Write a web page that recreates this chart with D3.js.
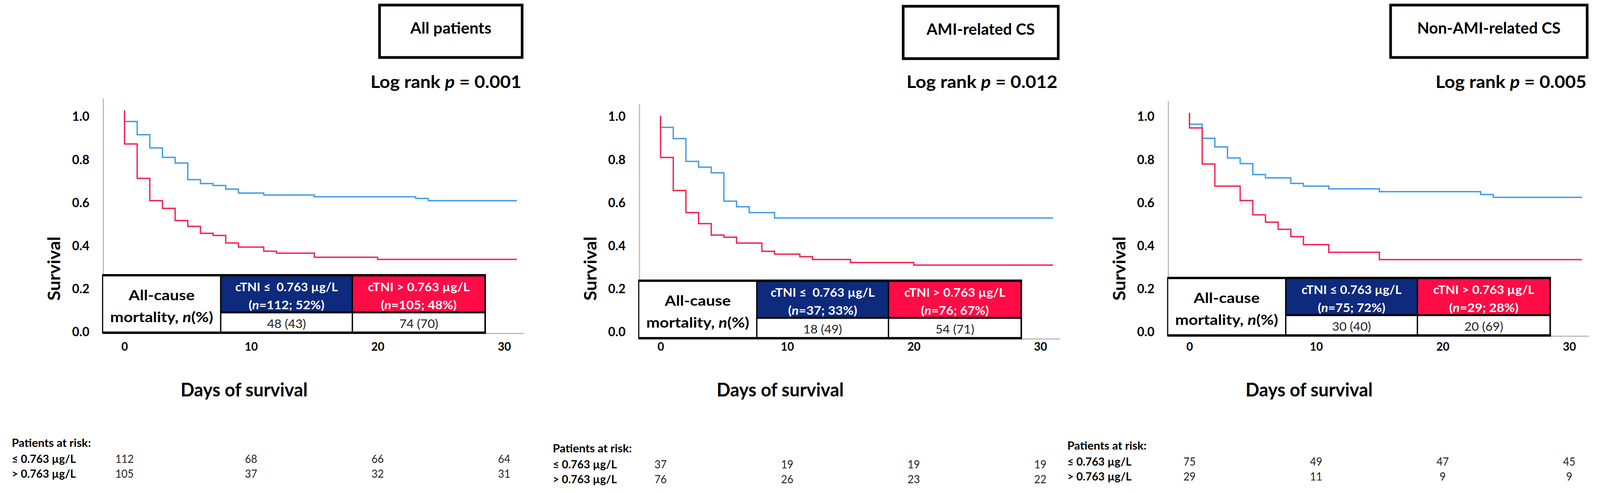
<!DOCTYPE html>
<html><head><meta charset="utf-8">
<script src="https://cdn.jsdelivr.net/npm/d3@7"></script>
<style>
html,body{margin:0;padding:0;background:#fff;overflow:hidden;width:100%;height:100%}
svg{display:block;width:100vw;height:100vh}
text{font-family:Lato,"Open Sans","DejaVu Sans",sans-serif}
</style>
</head><body>
<svg id="c" viewBox="0 0 4241 1261" preserveAspectRatio="none"></svg>
<script>
// ---------------- DATA ----------------
const panelTitles = ["All patients", "AMI-related CS", "Non-AMI-related CS"];
const pValues = ["0.001", "0.012", "0.005"];
const lowHeaders = ["cTNI \u2264 \u00a00.763 \u00b5g/L", "cTNI \u2264 \u00a00.763 \u00b5g/L", "cTNI \u2264 0.763 \u00b5g/L"];
const highHeaders = ["cTNI > 0.763 \u00b5g/L", "cTNI > 0.763 \u00b5g/L", "cTNI > 0.763 \u00b5g/L"];
const lowN = [112, 37, 75];
const lowPct = [52, 33, 72];
const highN = [105, 76, 29];
const highPct = [48, 67, 28];
const lowDeaths = ["48 (43)", "18 (49)", "30 (40)"];
const highDeaths = ["74 (70)", "54 (71)", "20 (69)"];
const riskTimes = [0, 10, 20, 30];
const riskLow = [[112, 68, 66, 64], [37, 19, 19, 19], [75, 49, 47, 45]];
const riskHigh = [[105, 37, 32, 31], [76, 26, 23, 22], [29, 11, 9, 9]];
const riskRowLabels = ["\u2264 0.763 \u00b5g/L", "> 0.763 \u00b5g/L"];
const xTicks = [0, 10, 20, 30];
const yTicks = [0, 0.2, 0.4, 0.6, 0.8, 1.0];
const followUpEnd = 31;

// Kaplan-Meier steps: [day, survival after the step]
const allLow = [[0,0.948],[1,0.887],[2,0.826],[3,0.782],[4,0.756],[5,0.679],[6,0.661],[7,0.652],[8,0.635],[9,0.617],[11,0.608],[15,0.600],[23,0.592],[24,0.582]];
const allHigh = [[0,0.844],[1,0.685],[2,0.582],[3,0.546],[4,0.490],[5,0.463],[6,0.431],[7,0.421],[8,0.386],[9,0.367],[11,0.348],[12,0.339],[15,0.320],[20,0.310]];
const amiLow = [[0,0.946],[1,0.894],[2,0.789],[3,0.762],[4,0.736],[5,0.605],[6,0.579],[7,0.552],[9,0.527]];
const amiHigh = [[0,0.807],[1,0.654],[2,0.552],[3,0.501],[4,0.448],[5,0.438],[6,0.411],[8,0.373],[9,0.360],[11,0.348],[12,0.335],[15,0.321],[20,0.309]];
const nonLow = [[0,0.948],[1,0.883],[2,0.843],[3,0.792],[4,0.766],[5,0.715],[6,0.700],[8,0.674],[9,0.662],[11,0.649],[15,0.636],[23,0.623],[24,0.610]];
const nonHigh = [[0,0.931],[1,0.764],[2,0.662],[4,0.595],[5,0.529],[6,0.495],[7,0.462],[8,0.428],[9,0.391],[11,0.356],[15,0.322]];
const lowCurves = [allLow, amiLow, nonLow];
const highCurves = [allHigh, amiHigh, nonHigh];

// ---------------- LAYOUT ----------------
const layout = [
  {ax: 274, yt: 282, titleW: 378, titleY: 13, titleTextW: 215, riskLeft: 31,
   lowHW: 272, highHW: 270, lowNW: 201, highNW: 201},
  {ax: 1695, yt: 296, titleW: 411, titleY: 16, titleTextW: 287, riskLeft: 1465,
   lowHW: 276, highHW: 268, lowNW: 183, highNW: 180},
  {ax: 3097, yt: 289, titleW: 521, titleY: 13, titleTextW: 380, riskLeft: 2829,
   lowHW: 265, highHW: 268, lowNW: 179, highNW: 184}
];
const C = {blueLine: "#3F9CEA", redLine: "#F2224F", navy: "#0D2A7C", redFill: "#FF0B46", axis: "#B8B8B8"};
const FONT = "Lato, 'Open Sans', sans-serif";

const svg = d3.select("#c");
const labelY = d3.scaleLinear().domain([0, 1]).range([848, 297]);

function kmPoints(steps) {
  return [[0, 1]].concat(steps, [[followUpEnd, steps[steps.length - 1][1]]]);
}
function fit(t, w) {
  const len = t.node().getComputedTextLength();
  if (len > 0 && w) t.attr("textLength", w).attr("lengthAdjust", "spacingAndGlyphs");
  return t;
}

panelTitles.forEach((title, i) => {
  const L = layout[i];
  const g = svg.append("g");
  const x = d3.scaleLinear().domain([0, 30]).range([L.ax + 56, L.ax + 56 + 30 * 33.55]);
  const y = d3.scaleLinear().domain([0, 1]).range([L.yt + 553, L.yt]);
  const base = L.yt + 571;

  // axis lines
  g.append("line").attr("x1", L.ax).attr("x2", L.ax).attr("y1", L.yt - 30).attr("y2", base)
    .attr("stroke", C.axis).attr("stroke-width", 3);
  g.append("line").attr("x1", L.ax).attr("x2", L.ax + 1115).attr("y1", base).attr("y2", base)
    .attr("stroke", C.axis).attr("stroke-width", 3);

  // y tick labels
  const ya = g.append("g").attr("transform", `translate(${L.ax - 60},0)`)
    .call(d3.axisLeft(labelY).tickValues(yTicks).tickFormat(d3.format(".1f")).tickSize(0).tickPadding(0));
  ya.select(".domain").remove();
  ya.attr("font-family", FONT).attr("font-size", 33).attr("font-weight", "bold").attr("text-anchor", "middle");
  ya.selectAll("text").attr("x", 0).attr("dy", "0.36em").attr("fill", "#000");

  // x tick labels
  const xa = g.append("g").attr("transform", `translate(0,886)`)
    .call(d3.axisBottom(x).tickValues(xTicks).tickSize(0).tickPadding(0));
  xa.select(".domain").remove();
  xa.attr("font-family", FONT).attr("font-size", 30).attr("font-weight", "bold");
  xa.selectAll("text").attr("y", 0).attr("dy", "0.36em").attr("fill", "#000");

  // curves
  const line = d3.line().x(d => x(d[0])).y(d => y(d[1])).curve(d3.curveStepAfter);
  g.append("path").attr("d", line(kmPoints(lowCurves[i]))).attr("fill", "none")
    .attr("stroke", C.blueLine).attr("stroke-width", 3.5);
  g.append("path").attr("d", line(kmPoints(highCurves[i]))).attr("fill", "none")
    .attr("stroke", C.redLine).attr("stroke-width", 3.5);

  // mortality table
  const tl = L.ax - 2, tr = L.ax + 1012, c1 = L.ax + 311, c2 = L.ax + 660;
  const tt = L.yt + 422, tm = L.yt + 517, tb = L.yt + 569;
  g.append("rect").attr("x", tl).attr("y", tt).attr("width", tr - tl).attr("height", tb - tt).attr("fill", "#fff");
  g.append("rect").attr("x", c1).attr("y", tt).attr("width", c2 - c1).attr("height", tm - tt).attr("fill", C.navy);
  g.append("rect").attr("x", c2).attr("y", tt).attr("width", tr - c2).attr("height", tm - tt).attr("fill", C.redFill);
  const bl = (x1, y1, x2, y2, w) => g.append("line").attr("x1", x1).attr("y1", y1).attr("x2", x2).attr("y2", y2)
    .attr("stroke", "#000").attr("stroke-width", w);
  bl(tl - 1, tt, tr + 2, tt, 6);
  bl(tl - 1, tb, tr + 2, tb, 6);
  bl(c1, tm, tr, tm, 5);
  bl(tl, tt, tl, tb, 3);
  bl(tr, tt, tr, tb, 4);
  bl(c1, tt, c1, tb, 3.5);
  bl(c2, tt, c2, tb, 3.5);

  const txt = (xx, yy, s, size, weight, fill, anchor) => g.append("text").attr("x", xx).attr("y", yy)
    .attr("font-size", size).attr("font-weight", weight).attr("fill", fill)
    .attr("text-anchor", anchor || "middle").attr("dominant-baseline", "central").text(s);

  const m1 = (c1 + c2) / 2, m2 = (c2 + tr) / 2;
  fit(txt(m1, tt + 29, lowHeaders[i], 30, "bold", "#fff"), L.lowHW);
  fit(txt(m2, tt + 29, highHeaders[i], 30, "bold", "#fff"), L.highHW);
  [[m1, lowN[i], lowPct[i], L.lowNW], [m2, highN[i], highPct[i], L.highNW]].forEach(([mx, n, pc, w]) => {
    const t = txt(mx, tt + 75, "", 30, "bold", "#fff");
    t.append("tspan").text("(");
    t.append("tspan").attr("font-style", "italic").text("n");
    t.append("tspan").text(`=${n}; ${pc}%)`);
    fit(t, w);
  });
  fit(txt(m1, (tm + tb) / 2 + 2, lowDeaths[i], 31, "normal", "#222"), 103);
  fit(txt(m2, (tm + tb) / 2 + 2, highDeaths[i], 31, "normal", "#222"), 103);
  const ml = (tl + c1) / 2;
  fit(txt(ml, tt + 50, "All-cause", 37, "bold", "#000"), 175);
  const mt = txt(ml, tt + 106, "", 37, "bold", "#000");
  mt.append("tspan").text("mortality, ");
  mt.append("tspan").attr("font-style", "italic").text("n");
  mt.append("tspan").text("(%)");
  fit(mt, 273);

  // title box
  const bx = L.ax + 1110 - L.titleW;
  g.append("rect").attr("x", bx).attr("y", L.titleY).attr("width", L.titleW).attr("height", 134)
    .attr("fill", "none").attr("stroke", "#000").attr("stroke-width", 7);
  fit(txt(bx + L.titleW / 2, L.titleY + 57, title, 40, "bold", "#000"), L.titleTextW);

  // log rank
  const lr = txt(L.ax + 1108, 208, "", 44, "bold", "#000", "end");
  lr.append("tspan").text("Log rank ");
  lr.append("tspan").attr("font-style", "italic").text("p");
  lr.append("tspan").text(` = ${pValues[i]}`);
  fit(lr, 400);

  // axis titles
  fit(g.append("text").attr("transform", `translate(${L.ax - 132},687) rotate(-90)`)
    .attr("text-anchor", "middle").attr("dominant-baseline", "central")
    .attr("font-size", 46).attr("font-weight", "bold").text("Survival"), 164);
  fit(txt(L.ax + 373, 996, "Days of survival", 47, "bold", "#000"), 337);

  // patients at risk
  fit(txt(L.riskLeft, L.yt + 850, "Patients at risk:", 28, "bold", "#000", "start"), 210);
  [riskLow[i], riskHigh[i]].forEach((row, r) => {
    const ry = L.yt + 891 + r * 38;
    fit(txt(L.riskLeft, ry, riskRowLabels[r], 28, "bold", "#000", "start"), 170);
    row.forEach((v, k) => txt(x(riskTimes[k]), ry, v, 28, "normal", "#222"));
  });
});
</script>
</body></html>
